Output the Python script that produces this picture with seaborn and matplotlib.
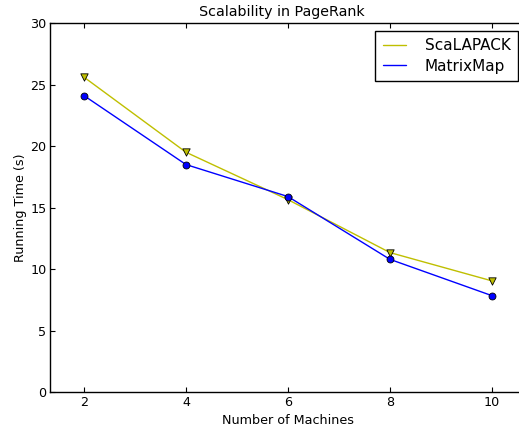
import matplotlib
matplotlib.use("Agg")
import matplotlib.pyplot as plt
import seaborn as sns
import pandas as pd

machines = [2, 4, 6, 8, 10]
scalapack = [25.6, 19.5, 15.65, 11.35, 9.05]
matrixmap = [24.1, 18.5, 15.9, 10.8, 7.85]

df = pd.DataFrame({
    "machines": machines * 2,
    "time": scalapack + matrixmap,
    "system": ["ScaLAPACK"] * 5 + ["MatrixMap"] * 5,
})

sns.set_style("ticks")
plt.rcParams["font.family"] = ["DejaVu Sans"]
plt.rcParams["text.color"] = "black"
plt.rcParams["axes.labelcolor"] = "black"
plt.rcParams["xtick.color"] = "black"
plt.rcParams["ytick.color"] = "black"

fig = plt.figure(figsize=(5.19, 4.28), dpi=100)
# axes runs a little past the right edge of the figure, as in the original
ax = fig.add_axes([0.0963, 0.0834, 0.9171, 0.8629])

palette = {"ScaLAPACK": (0.75, 0.75, 0.0), "MatrixMap": (0.0, 0.0, 1.0)}
sns.lineplot(data=df, x="machines", y="time", hue="system", palette=palette,
             linewidth=1, ax=ax)
sns.scatterplot(data=df[df.system == "ScaLAPACK"], x="machines", y="time",
                color=palette["ScaLAPACK"], marker="v", s=28,
                edgecolor="black", linewidth=0.6, legend=False, ax=ax, zorder=3)
sns.scatterplot(data=df[df.system == "MatrixMap"], x="machines", y="time",
                color=palette["MatrixMap"], marker="o", s=25,
                edgecolor="black", linewidth=0.6, legend=False, ax=ax, zorder=3)

ax.set_xlim(4 / 3, 32 / 3)
ax.set_ylim(0, 30)
ax.set_xticks([2, 4, 6, 8, 10])
ax.set_yticks([0, 5, 10, 15, 20, 25, 30])
ax.tick_params(direction="in", top=True, right=True, length=3.5, width=0.8,
               labelsize=9.2)
ax.tick_params(axis="x", pad=3)
ax.tick_params(axis="y", pad=2.5)
for s in ax.spines.values():
    s.set_linewidth(1)
    s.set_color("black")

ax.set_title("Scalability in PageRank", fontsize=10.3, pad=5, x=0.4874)
ax.set_xlabel("Number of Machines", fontsize=9.2, labelpad=3)
ax.set_ylabel("Running Time (s)", fontsize=9.2, labelpad=2)

leg = ax.legend(loc="upper right", fancybox=False, framealpha=1,
                edgecolor="black", fontsize=11, handlelength=1.5,
                handletextpad=1.25, borderaxespad=0.5, borderpad=0.5,
                labelspacing=0.35)
leg.get_frame().set_linewidth(1)

fig.savefig("out.png", dpi=100)
